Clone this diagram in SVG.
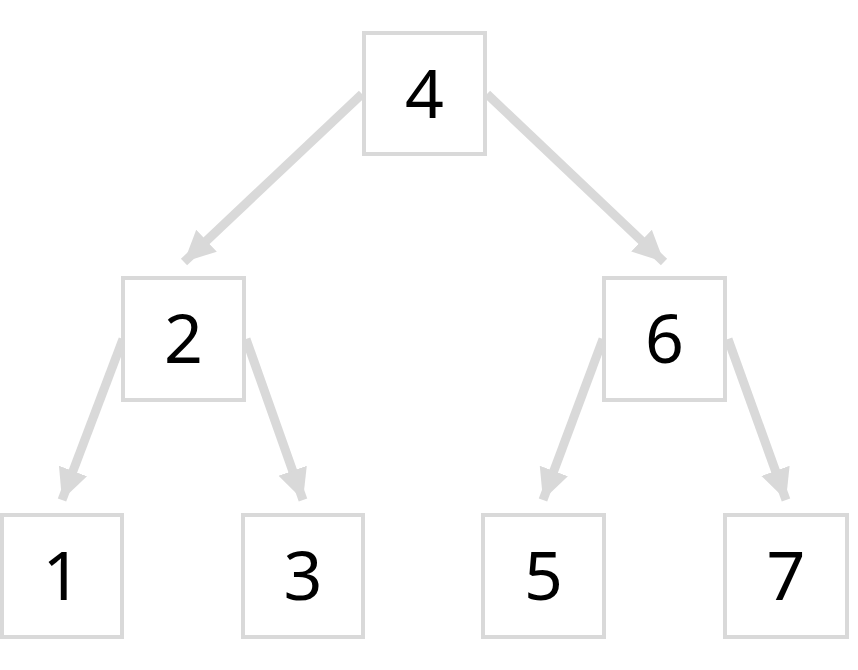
<svg xmlns="http://www.w3.org/2000/svg" width="858" height="670" viewBox="0 0 858 670">
<defs>
<style>
.box{fill:#fff;stroke:#d9d9d9;stroke-width:4}
.lbl{font-family:"Noto Sans","Open Sans",sans-serif;font-size:68px;fill:#000;text-anchor:middle}
.edge{stroke:#d9d9d9;stroke-width:9;fill:none;marker-end:url(#ah)}
</style>
<marker id="ah" markerUnits="userSpaceOnUse" markerWidth="34" markerHeight="34" viewBox="0 0 34 34" refX="31" refY="17" orient="auto">
<path d="M0,2 L31,17 L0,32 Z" fill="#d9d9d9"/>
</marker>
</defs>
<rect width="858" height="670" fill="#fff"/>
<g id="connectors">
<line class="edge" x1="362" y1="94" x2="184" y2="262"/>
<line class="edge" x1="487" y1="94" x2="664" y2="262"/>
<line class="edge" x1="123" y1="339" x2="62" y2="500"/>
<line class="edge" x1="246" y1="339" x2="303" y2="500"/>
<line class="edge" x1="603" y1="339" x2="543" y2="500"/>
<line class="edge" x1="728" y1="339" x2="786" y2="500"/>
</g>
<g id="node4"><rect class="box" x="364" y="33" width="121" height="121"/><text class="lbl" x="424.5" y="117.5">4</text></g>
<g id="node2"><rect class="box" x="123" y="278" width="121" height="122"/><text class="lbl" x="183.5" y="363">2</text></g>
<g id="node6"><rect class="box" x="604" y="278" width="121" height="122"/><text class="lbl" x="664.5" y="363">6</text></g>
<g id="node1"><rect class="box" x="2" y="515" width="120" height="122"/><text class="lbl" x="62" y="600">1</text></g>
<g id="node3"><rect class="box" x="243" y="515" width="120" height="122"/><text class="lbl" x="303" y="600">3</text></g>
<g id="node5"><rect class="box" x="483" y="515" width="121" height="122"/><text class="lbl" x="543.5" y="600">5</text></g>
<g id="node7"><rect class="box" x="725" y="515" width="122" height="122"/><text class="lbl" x="786" y="600">7</text></g>
</svg>
